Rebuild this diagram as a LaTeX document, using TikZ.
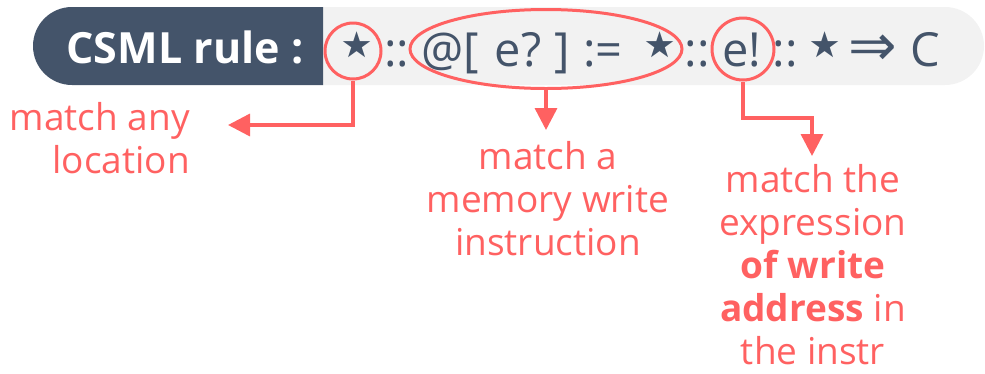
\documentclass[tikz,border=0pt]{standalone}
\usepackage{fontspec}
\setmainfont{Open Sans}
\newfontfamily\symfont{DejaVu Sans}
\usetikzlibrary{arrows.meta,shapes.geometric}
\definecolor{slate}{HTML}{44546A}
\definecolor{barbg}{HTML}{F2F2F2}
\definecolor{hl}{HTML}{FF6161}
\begin{document}
\begin{tikzpicture}[x=1pt,y=-1pt,
  sym/.style={anchor=base,inner sep=0pt,text=slate,font=\fontsize{47}{52}\selectfont},
  star/.style={anchor=center,inner sep=0pt,text=slate,font=\symfont\fontsize{72}{72}\selectfont},
  ring/.style={draw=hl,line width=3pt},
  conn/.style={draw=hl,line width=3.5pt,-{Triangle[length=22pt,width=22pt]}},
  lbl/.style={text=hl,font=\fontsize{37}{43}\selectfont,inner sep=0pt}]
\useasboundingbox (0,0) rectangle (985,373);
% bars
\fill[barbg] (323,7) -- (945,7) arc[start angle=90,end angle=-90,x radius=39,y radius=-39] -- (323,85) -- cycle;
\fill[slate] (323,7) -- (72,7) arc[start angle=90,end angle=270,x radius=39,y radius=-39] -- (323,85) -- cycle;
\node[anchor=base,inner sep=0pt,text=white,font=\fontsize{43}{50}\selectfont\bfseries] (title) at (185,63) {CSML rule :};
% formula
\node[star] (s1) at (357,50) {⋆};
\node[sym] (d1) at (397,66) {::};
\node[sym] (at) at (450,66) {@[};
\node[sym] (eq) at (518,66) {e?};
\node[sym] (rb) at (562,66) {]};
\node[sym] (as) at (603,66) {:=};
\node[star] (s2) at (660,50) {⋆};
\node[sym] (d2) at (697,66) {::};
\node[sym] (ex) at (742,66) {e!};
\node[sym] (d3) at (785,66) {::};
\node[star] (s3) at (825,50) {⋆};
\node[anchor=center,inner sep=0pt,text=slate,font=\symfont\fontsize{58}{60}\selectfont] (imp) at (873,50) {⇒};
\node[sym] (cc) at (925,66) {C};
% highlights
\node[ring,circle,minimum size=56pt,inner sep=0pt] (c1) at (353,51) {};
\node[ring,ellipse,minimum width=272pt,minimum height=79pt,inner sep=0pt] (el) at (546,49) {};
\node[ring,circle,minimum size=62pt,inner sep=0pt] (c3) at (743,49) {};
% labels
\node[lbl,align=right,anchor=east] (l1) at (190,138) {match any\\location};
\node[lbl,align=center] (l2) at (548,199) {match a\\memory write\\instruction};
\node[lbl,align=center] (l3) at (813,265) {match the\\expression\\\textbf{of write}\\\textbf{address} in\\the instr};
% connectors
\coordinate (t1) at (228,125);
\coordinate (t2) at (546,130);
\coordinate (t3) at (812,156);
\draw[conn] (c1.south) |- (t1);
\draw[conn] (el.south) -- (t2);
\draw[conn] (c3.south) -- (743,118) -| (t3);
\end{tikzpicture}
\end{document}
